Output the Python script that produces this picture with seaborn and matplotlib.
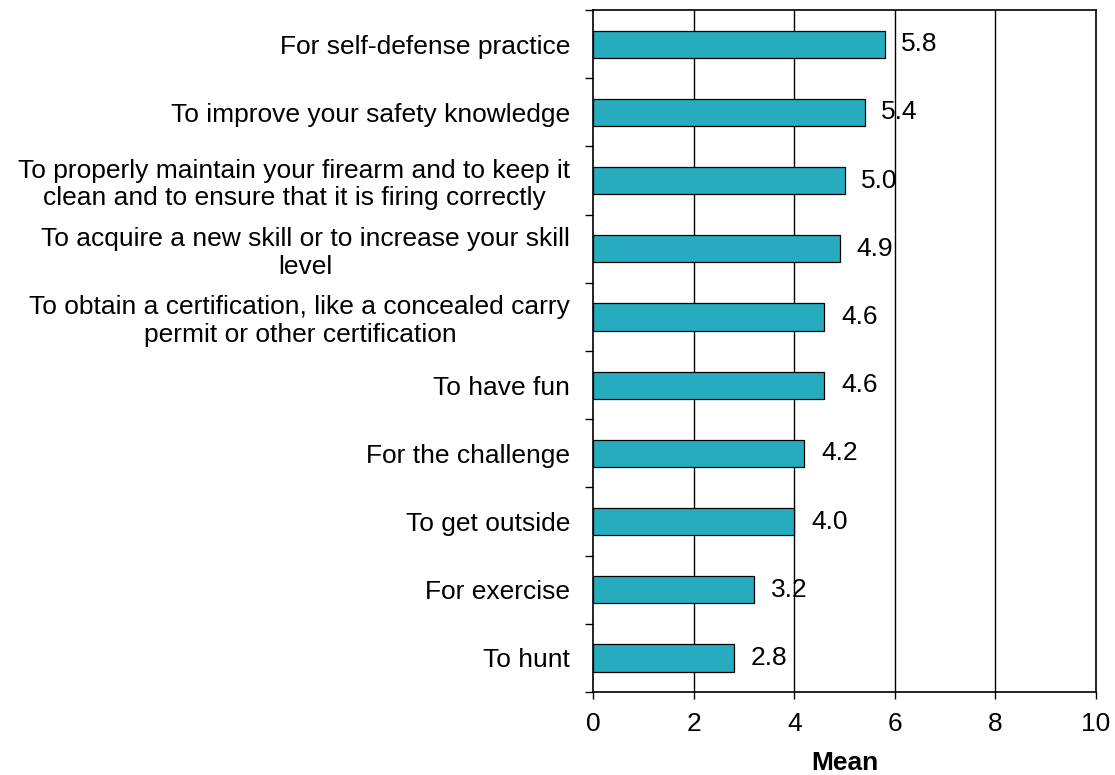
import matplotlib
matplotlib.use("Agg")
import matplotlib.pyplot as plt
import seaborn as sns
import pandas as pd
import numpy as np

categories = [
    "For self-defense practice",
    "To improve your safety knowledge",
    "To properly maintain your firearm and to keep it\nclean and to ensure that it is firing correctly",
    "To acquire a new skill or to increase your skill\nlevel",
    "To obtain a certification, like a concealed carry\npermit or other certification",
    "To have fun",
    "For the challenge",
    "To get outside",
    "For exercise",
    "To hunt",
]
means = [5.8, 5.4, 5.0, 4.9, 4.6, 4.6, 4.2, 4.0, 3.2, 2.8]
x_ticks = [0, 2, 4, 6, 8, 10]

sns.set_style("white")
plt.rcParams["font.family"] = ["Liberation Sans", "DejaVu Sans"]
plt.rcParams["text.color"] = "black"
plt.rcParams["xtick.color"] = "black"
plt.rcParams["ytick.color"] = "black"
plt.rcParams["axes.labelcolor"] = "black"

FS = 19

df = pd.DataFrame({"reason": categories, "mean": means})

fig = plt.figure(figsize=(11.15, 7.75), dpi=100)
ax = fig.add_axes([0.532, 0.107, 0.451, 0.880])

sns.barplot(data=df, y="reason", x="mean", orient="h", order=categories,
            color="#26ACBE", saturation=1, width=0.4,
            edgecolor="black", linewidth=0.9, ax=ax)

ax.set_xlim(0, 10)
ax.set_ylim(len(categories) - 0.5, -0.5)
ax.set_xticks(x_ticks)
ax.set_xticklabels([str(t) for t in x_ticks], fontsize=FS)
ax.tick_params(axis="x", bottom=True, direction="out", length=5, width=1,
               color="black", pad=9)

# category labels on major ticks (no tick marks), boundary ticks as minor
ax.set_yticks(range(len(categories)))
ax.set_yticklabels(categories, fontsize=FS, ha="right",
                   multialignment="center", linespacing=1.18)
ax.tick_params(axis="y", which="major", left=True, length=0, pad=16.5)
ax.set_yticks(np.arange(-0.5, len(categories), 1.0), minor=True)
ax.tick_params(axis="y", which="minor", left=True, direction="out",
               length=6, width=1, color="black")
ax.set_ylabel("")

ax.set_xlabel("Mean", fontsize=FS, fontweight="bold", labelpad=11)

# vertical gridlines
for t in x_ticks[1:-1]:
    ax.axvline(t, color="black", linewidth=1, zorder=0)

for s in ax.spines.values():
    s.set_visible(True)
    s.set_color("black")
    s.set_linewidth(1.2)

# value labels
for i, v in enumerate(means):
    ax.text(v + 0.33, i, f"{v:.1f}", va="center", ha="left", fontsize=FS)

fig.savefig("out.png", dpi=100)
